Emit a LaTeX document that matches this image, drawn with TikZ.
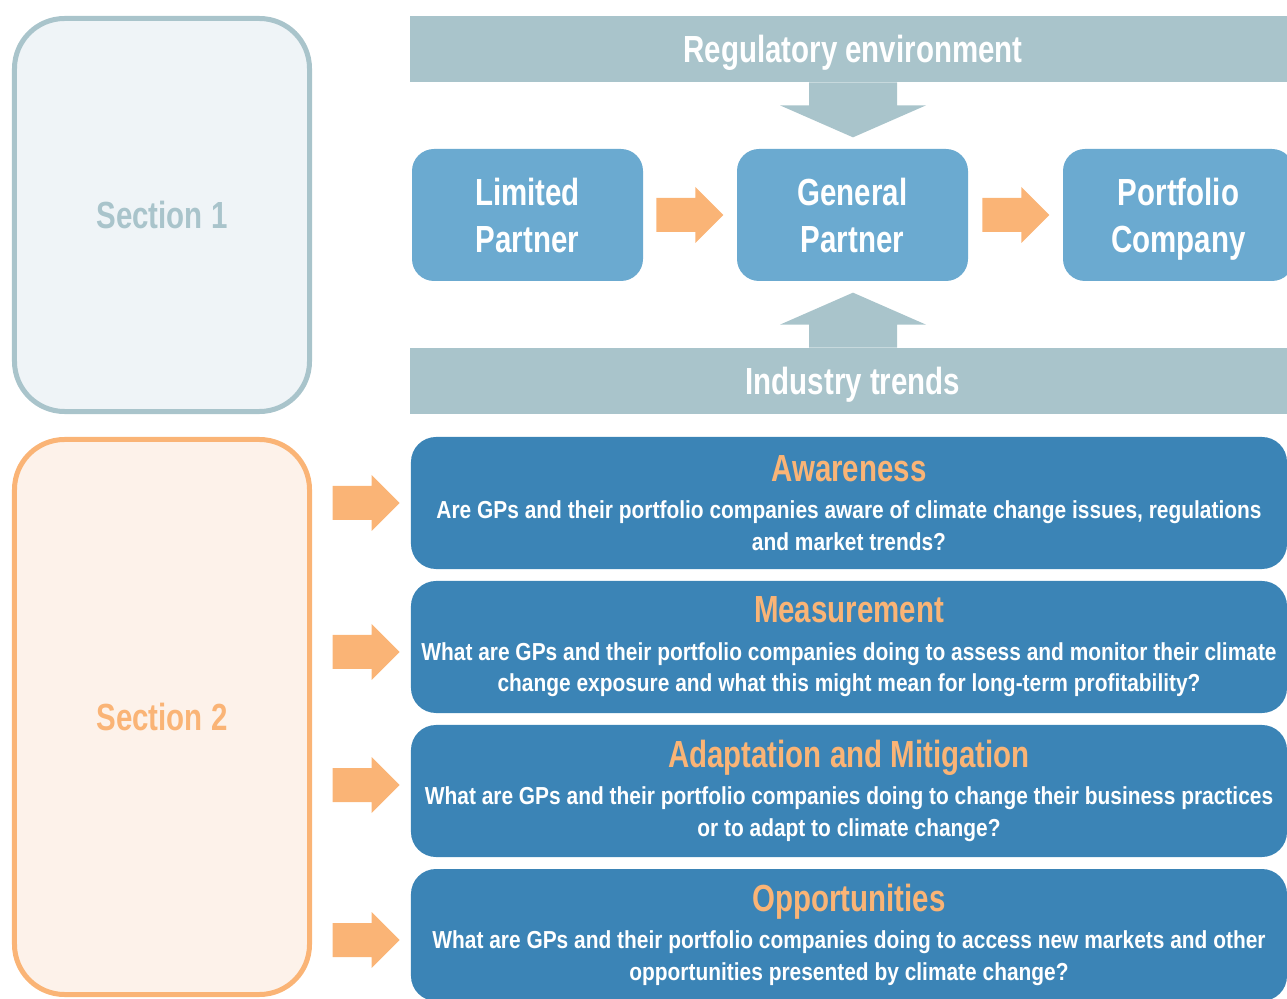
\documentclass[tikz,border=0pt]{standalone}
\usepackage{fontspec}
\setmainfont{Liberation Sans}[FakeStretch=0.78]
\newfontfamily\bodyfamily{Liberation Sans}[FakeStretch=0.85]
\usetikzlibrary{calc}
\definecolor{bargrey}{HTML}{A9C4CB}
\definecolor{secfill}{HTML}{EFF4F7}
\definecolor{arrorange}{HTML}{FAB476}
\definecolor{orfill}{HTML}{FDF2EA}
\definecolor{actblue}{HTML}{6BAAD0}
\definecolor{qblue}{HTML}{3B84B6}
\newcommand\bigfont{\fontsize{21.5}{26.6}\selectfont\bfseries}
\newcommand\qfont{\bodyfamily\fontsize{14}{18.1}\selectfont\bfseries}
\newcommand\qtitle{\normalfont\fontsize{21.5}{26}\selectfont\bfseries\color{arrorange}}
\tikzset{
  orarrow/.pic={\fill[arrorange] (0,-17) -- (39,-17) -- (39,-28) -- (67,0) -- (39,28) -- (39,17) -- (0,17) -- cycle;},
  greyarrow/.pic={\fill[bargrey] (0,-44) -- (23,-44) -- (23,-73) -- (55,0) -- (23,73) -- (23,44) -- (0,44) -- cycle;}
}

\begin{document}
\begin{tikzpicture}[x=0.2mm, y=-0.2mm,
  secbox/.style = {rounded corners=10mm, line width=1mm, minimum width=59mm, font=\bigfont},
  bar/.style = {fill=bargrey, minimum width=177.2mm, minimum height=13.2mm, text=white, font=\bigfont, inner sep=0, text depth=0pt},
  actor/.style = {fill=actblue, rounded corners=4.4mm, minimum width=46.2mm, minimum height=26.4mm, text=white, font=\bigfont, align=center, text depth=0pt},
  qbox/.style = {fill=qblue, rounded corners=5mm, minimum width=175.2mm, minimum height=26.4mm, text=white, font=\qfont, align=center, inner sep=0}]
	\path[use as bounding box] (0,0) rectangle (1287,999);
	\clip (0,0) rectangle (1287,999);
	% sections
	\node[secbox, draw=bargrey, fill=secfill, text=bargrey, minimum height=78.6mm] (s1) at (162,215) {Section 1};
	\node[secbox, draw=arrorange, fill=orfill, text=arrorange, minimum height=111mm] (s2) at (162,717) {Section 2};
	% section 1
	\node[bar] (reg) at (853,49) {Regulatory environment};
	\node[bar] (ind) at (853,381) {Industry trends};
	\node[actor] (lp) at (527.5,215) {Limited\\Partner};
	\node[actor] (gp) at (852.5,215) {General\\Partner};
	\node[actor] (pc) at (1178.5,215) {Portfolio\\Company};
	\pic[rotate=-90] at (reg.south) {greyarrow};
	\pic[rotate=90] at (ind.north) {greyarrow};
	\pic at ($(lp.east)+(13,0)$) {orarrow};
	\pic at ($(gp.east)+(14,0)$) {orarrow};
	% section 2
	\node[qbox] (q1) at (849,503) {{\qtitle Awareness}\\[3pt]
	  Are GPs and their portfolio companies aware of climate change issues, regulations\\
	  and market trends?};
	\node[qbox] (q2) at (849,647) {{\qtitle Measurement}\\[3pt]
	  What are GPs and their portfolio companies doing to assess and monitor their climate\\
	  change exposure and what this might mean for long-term profitability?};
	\node[qbox] (q3) at (849,791) {{\qtitle Adaptation and Mitigation}\\[3pt]
	  What are GPs and their portfolio companies doing to change their business practices\\
	  or to adapt to climate change?};
	\node[qbox] (q4) at (849,935) {{\qtitle Opportunities}\\[3pt]
	  What are GPs and their portfolio companies doing to access new markets and other\\
	  opportunities presented by climate change?};
	\foreach \q/\dy in {q1/0, q2/5, q3/-6, q4/5}
	  \pic at ($(\q.west)+(-78,\dy)$) {orarrow};
\end{tikzpicture}
\end{document}
